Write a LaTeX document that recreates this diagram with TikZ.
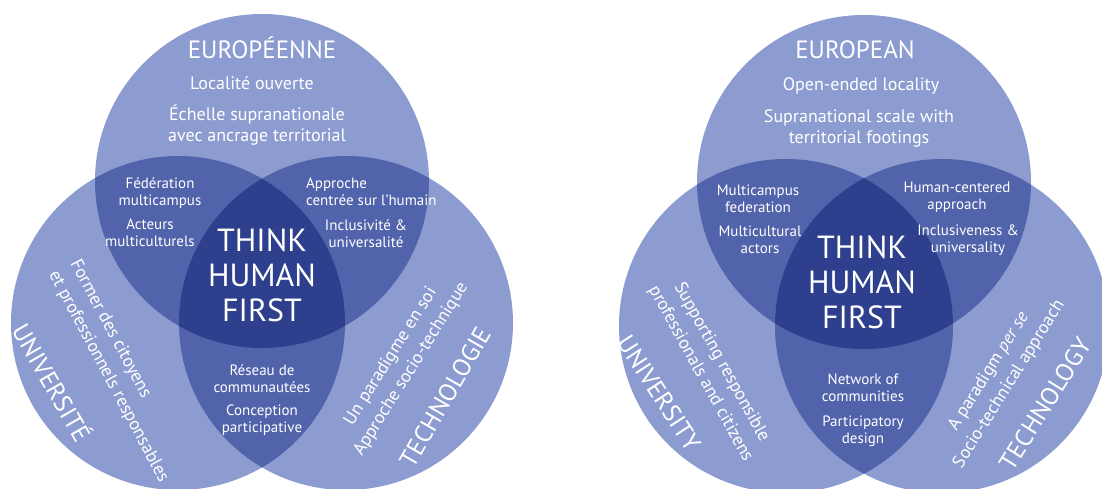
\documentclass[tikz,border=0pt]{standalone}
\usepackage{fontspec}
\setmainfont{PT Sans}
\definecolor{vennOne}{RGB}{140,156,208}
\definecolor{vennTwo}{RGB}{81,99,170}
\definecolor{vennThree}{RGB}{46,64,141}
\def\rad{167}

\begin{document}
\begin{tikzpicture}
[x=1pt,y=-1pt,
  textDecorate/.style={text=white,inner sep=0pt,align=center},
  titleDecorate/.style={textDecorate,font=\fontsize{25}{28}\selectfont},
  mainDecorate/.style={textDecorate,font=\fontsize{18}{21}\selectfont},
  smallDecorate/.style={textDecorate,font=\fontsize{15}{17}\selectfont},
  sideDecorate/.style={textDecorate,font=\fontsize{18}{24}\selectfont},
  thinkDecorate/.style={textDecorate,font=\fontsize{32}{35}\selectfont}]
\fill[white] (0,0) rectangle (1102,488);
\useasboundingbox (0,0) rectangle (1102,488);
%% circle centres
\foreach \name/\x/\y in {
  eu/262/181, un/178/323, te/346/323,
  euEN/864/182, unEN/786/326, teEN/942/326}
{
  \coordinate (\name) at (\x,\y);
}
%% circles and overlaps
\foreach \top/\left/\right in {eu/un/te, euEN/unEN/teEN}
{
  \fill[vennOne] (\top) circle (\rad) (\left) circle (\rad) (\right) circle (\rad);
  \begin{scope}
    \clip (\top) circle (\rad);
    \fill[vennTwo] (\left) circle (\rad) (\right) circle (\rad);
  \end{scope}
  \begin{scope}
    \clip (\left) circle (\rad);
    \fill[vennTwo] (\right) circle (\rad);
  \end{scope}
  \begin{scope}
    \clip (\top) circle (\rad);
    \clip (\left) circle (\rad);
    \fill[vennThree] (\right) circle (\rad);
  \end{scope}
}
%% french labels
\node (euTitle) at (262,48) [titleDecorate] {EUROPÉENNE};
\node (euLoc) at (252,83) [mainDecorate] {Localité ouverte};
\node (euScale) at (257,125) [mainDecorate] {Échelle supranationale\\avec ancrage territorial};
\node (fed) at (160,193) [smallDecorate] {Fédération\\multicampus};
\node (act) at (150,233) [smallDecorate] {Acteurs\\multiculturels};
\node (appr) at (306,192) [smallDecorate,anchor=west,align=left] {Approche\\centrée sur l’humain};
\node (incl) at (366,234) [smallDecorate] {Inclusivité \&\\universalité};
\node (think) at (262,275) [thinkDecorate] {THINK\\HUMAN\\FIRST};
\node (net) at (262,379) [smallDecorate] {Réseau de\\communautées};
\node (part) at (262,420) [smallDecorate] {Conception\\participative};
\node (form) at (119,371) [sideDecorate,rotate=-62,align=left] {Former des citoyens\\et professionnels responsables};
\node (uni) at (53,382) [titleDecorate,rotate=-60] {UNIVERSITÉ};
\node (par) at (401,363) [sideDecorate,rotate=58] {Un paradigme en soi\\Approche socio-technique};
\node (tec) at (445,397) [titleDecorate,rotate=60] {TECHNOLOGIE};
%% english labels
\node (euTitleEN) at (855,50) [titleDecorate] {EUROPEAN};
\node (euLocEN) at (861,86) [mainDecorate] {Open-ended locality};
\node (euScaleEN) at (859,128) [mainDecorate] {Supranational scale with\\territorial footings};
\node (fedEN) at (758,199) [smallDecorate] {Multicampus\\federation};
\node (actEN) at (760,240) [smallDecorate] {Multicultural\\actors};
\node (apprEN) at (957,197) [smallDecorate] {Human-centered\\approach};
\node (inclEN) at (968,240) [smallDecorate] {Inclusiveness \&\\universality};
\node (thinkEN) at (862,282) [thinkDecorate] {THINK\\HUMAN\\FIRST};
\node (netEN) at (863,388) [smallDecorate] {Network of\\communities};
\node (partEN) at (863,431) [smallDecorate] {Participatory\\design};
\node (supEN) at (711,368) [sideDecorate,rotate=-61] {Supporting responsible\\professionals and citizens};
\node (uniEN) at (659,393) [titleDecorate,rotate=-57] {UNIVERSITY};
\node (parEN) at (999,378) [sideDecorate,rotate=58] {A paradigm \textit{per se}\\Socio-technical approach};
\node (tecEN) at (1045,404) [titleDecorate,rotate=58] {TECHNOLOGY};
\end{tikzpicture}
\end{document}
